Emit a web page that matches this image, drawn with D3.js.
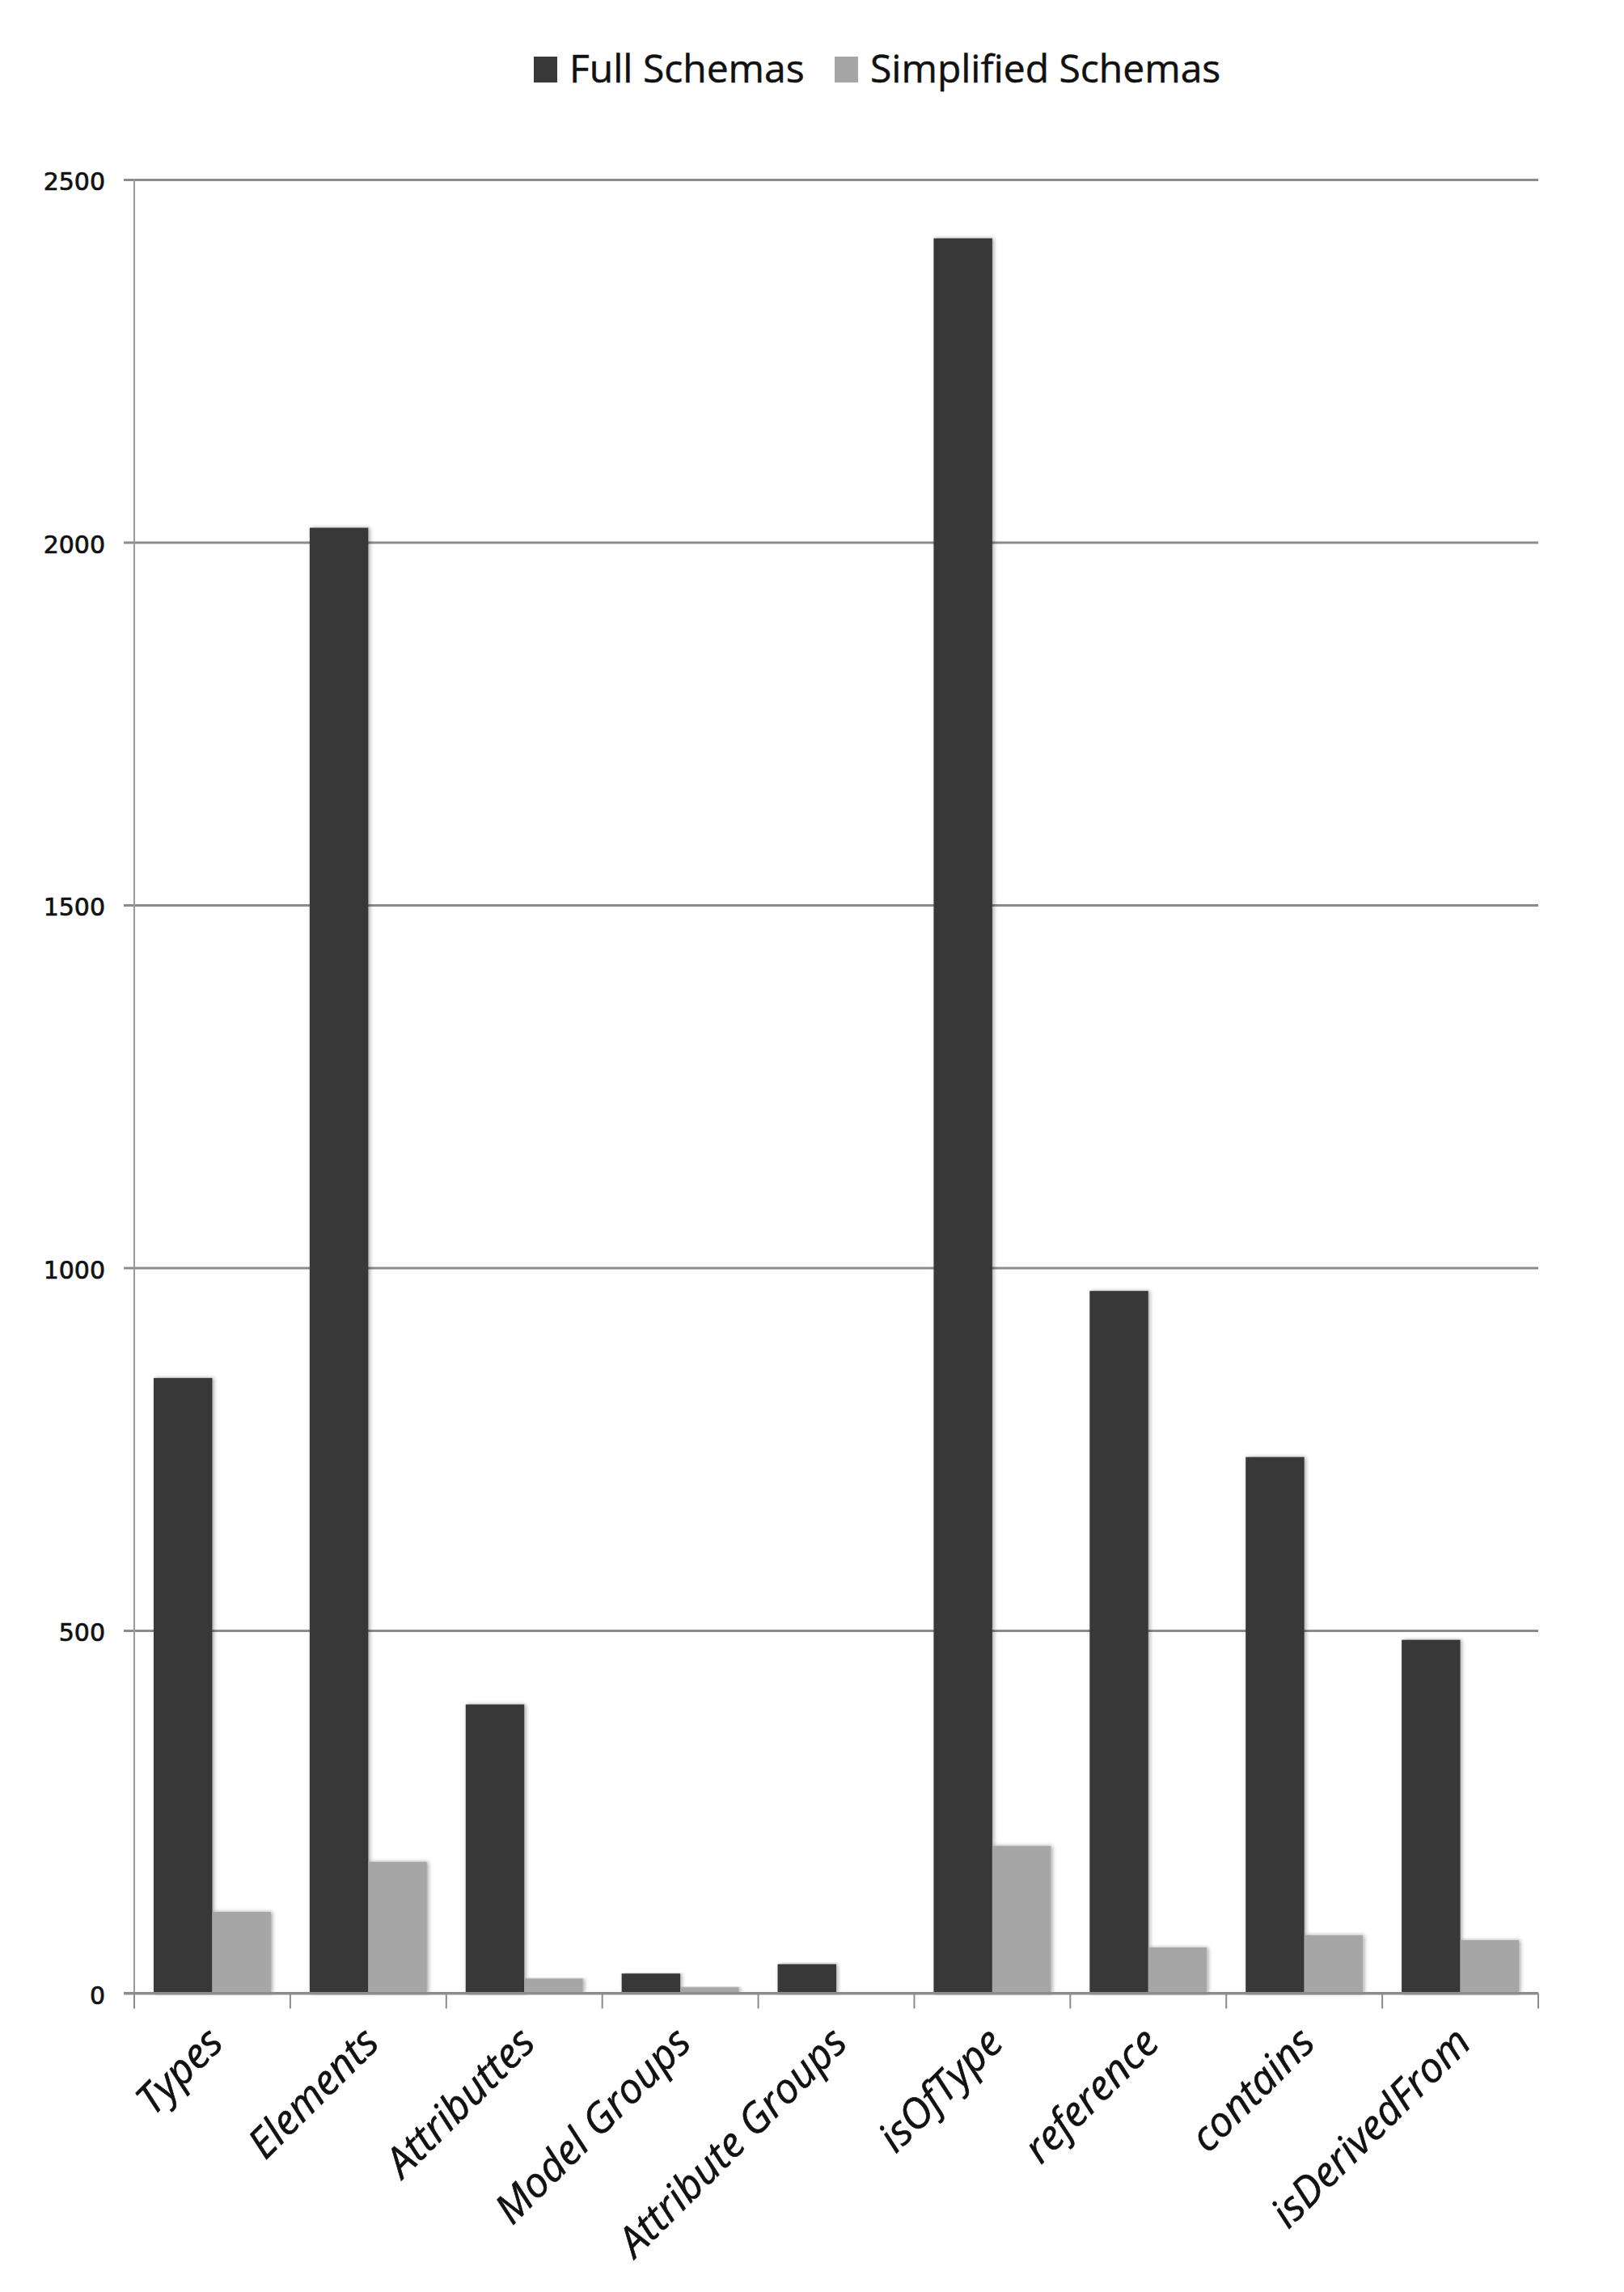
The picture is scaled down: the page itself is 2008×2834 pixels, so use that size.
<!DOCTYPE html>
<html>
<head>
<meta charset="utf-8">
<script src="https://cdn.jsdelivr.net/npm/d3@7"></script>
<style>
  html, body { margin: 0; padding: 0; background: #ffffff; }
  svg { display: block; }
</style>
</head>
<body>
<svg id="chart" width="2008" height="2834"></svg>
<script>
// ---- data ----
const categories = ["Types", "Elements", "Attributtes", "Model Groups", "Attribute Groups", "isOfType", "reference", "contains", "isDerivedFrom"];
const seriesNames = ["Full Schemas", "Simplified Schemas"];
const fullSchemas = [848, 2020, 398, 27, 40, 2419, 968, 739, 487];
const simplifiedSchemas = [112, 181, 20, 8, 0, 203, 63, 80, 73];
const yTicks = [0, 500, 1000, 1500, 2000, 2500];
const seriesColors = ["#393939", "#a6a6a6"];

const seriesValues = [fullSchemas, simplifiedSchemas];
const table = categories.map((c, i) => ({
  category: c,
  values: seriesNames.map((s, j) => ({ series: s, value: seriesValues[j][i], color: seriesColors[j] }))
}));

// ---- layout ----
const svg = d3.select("#chart");
const plotLeft = 166, plotRight = 1902, plotTop = 222, plotBottom = 2464.5;

const x0 = d3.scaleBand().domain(categories).range([plotLeft, plotRight]).padding(0);
const gap = 24;
const x1 = d3.scaleBand().domain(seriesNames).range([gap, x0.bandwidth() - gap]).padding(0);
const y = d3.scaleLinear().domain([0, 2500]).range([plotBottom, plotTop]);

const defs = svg.append("defs");
const f = defs.append("filter").attr("id", "shadow").attr("x", "-20%").attr("y", "-5%").attr("width", "140%").attr("height", "110%");
f.append("feDropShadow").attr("dx", 2).attr("dy", 0).attr("stdDeviation", 2.5).attr("flood-color", "#000").attr("flood-opacity", 0.35);

// gridlines + y labels
const yAxis = d3.axisLeft(y).tickValues(yTicks).tickFormat(d3.format("d"))
  .tickSize(-(plotRight - plotLeft)).tickSizeOuter(0).tickPadding(0);
const gy = svg.append("g").attr("transform", `translate(${plotLeft},0)`).call(yAxis);
gy.select(".domain").remove();
gy.selectAll(".tick line").attr("x1", -13).attr("stroke", "#8c8c8c").attr("stroke-width", 3);
gy.selectAll(".tick text")
  .attr("x", -36).attr("dy", "0.36em").attr("y", 2)
  .attr("font-family", "DejaVu Sans").attr("font-size", 30).attr("fill", "#111")
  .attr("stroke", "#111").attr("stroke-width", 0.7)
  .attr("text-anchor", "end");

// left axis line
svg.append("line").attr("x1", plotLeft).attr("x2", plotLeft).attr("y1", plotTop).attr("y2", plotBottom + 19)
  .attr("stroke", "#9a9a9a").attr("stroke-width", 2);

// bars
const groups = svg.append("g").selectAll("g").data(table).join("g")
  .attr("transform", d => `translate(${x0(d.category)},0)`);
groups.selectAll("rect").data(d => d.values).join("rect")
  .attr("x", d => x1(d.series))
  .attr("width", x1.bandwidth())
  .attr("y", d => y(d.value))
  .attr("height", d => y(0) - y(d.value))
  .attr("fill", d => d.color)
  .attr("filter", d => d.value > 0 ? "url(#shadow)" : null);

// bottom axis with ticks at category boundaries
const boundaries = categories.map(c => x0(c)).concat([plotRight]);
svg.append("line").attr("x1", plotLeft - 13).attr("x2", plotRight).attr("y1", plotBottom).attr("y2", plotBottom)
  .attr("stroke", "#8c8c8c").attr("stroke-width", 3);
svg.append("g").selectAll("line").data(boundaries).join("line")
  .attr("x1", d => d).attr("x2", d => d).attr("y1", plotBottom).attr("y2", plotBottom + 19)
  .attr("stroke", "#8c8c8c").attr("stroke-width", 2);

// x labels rotated
svg.append("g").selectAll("text").data(categories).join("text")
  .attr("transform", d => `translate(${x0(d) + x0.bandwidth() / 2 + 16},${plotBottom + 64}) rotate(-45)`)
  .attr("text-anchor", "end")
  .attr("font-family", "Open Sans").attr("font-style", "italic").attr("font-size", 51)
  .attr("fill", "#111").attr("stroke", "#111").attr("stroke-width", 0.6)
  .text(d => d);

// legend
const legend = svg.append("g");
const legendItems = [
  { name: seriesNames[0], color: seriesColors[0], sx: 660, tx: 704 },
  { name: seriesNames[1], color: seriesColors[1], sx: 1032, tx: 1076 }
];
legend.selectAll("rect").data(legendItems).join("rect")
  .attr("x", d => d.sx).attr("y", 70).attr("width", 29).attr("height", 32)
  .attr("fill", d => d.color);
legend.selectAll("text").data(legendItems).join("text")
  .attr("x", d => d.tx).attr("y", 102)
  .attr("font-family", "Open Sans").attr("font-size", 48).attr("fill", "#111")
  .attr("stroke", "#111").attr("stroke-width", 0.5)
  .text(d => d.name);
</script>
</body>
</html>
